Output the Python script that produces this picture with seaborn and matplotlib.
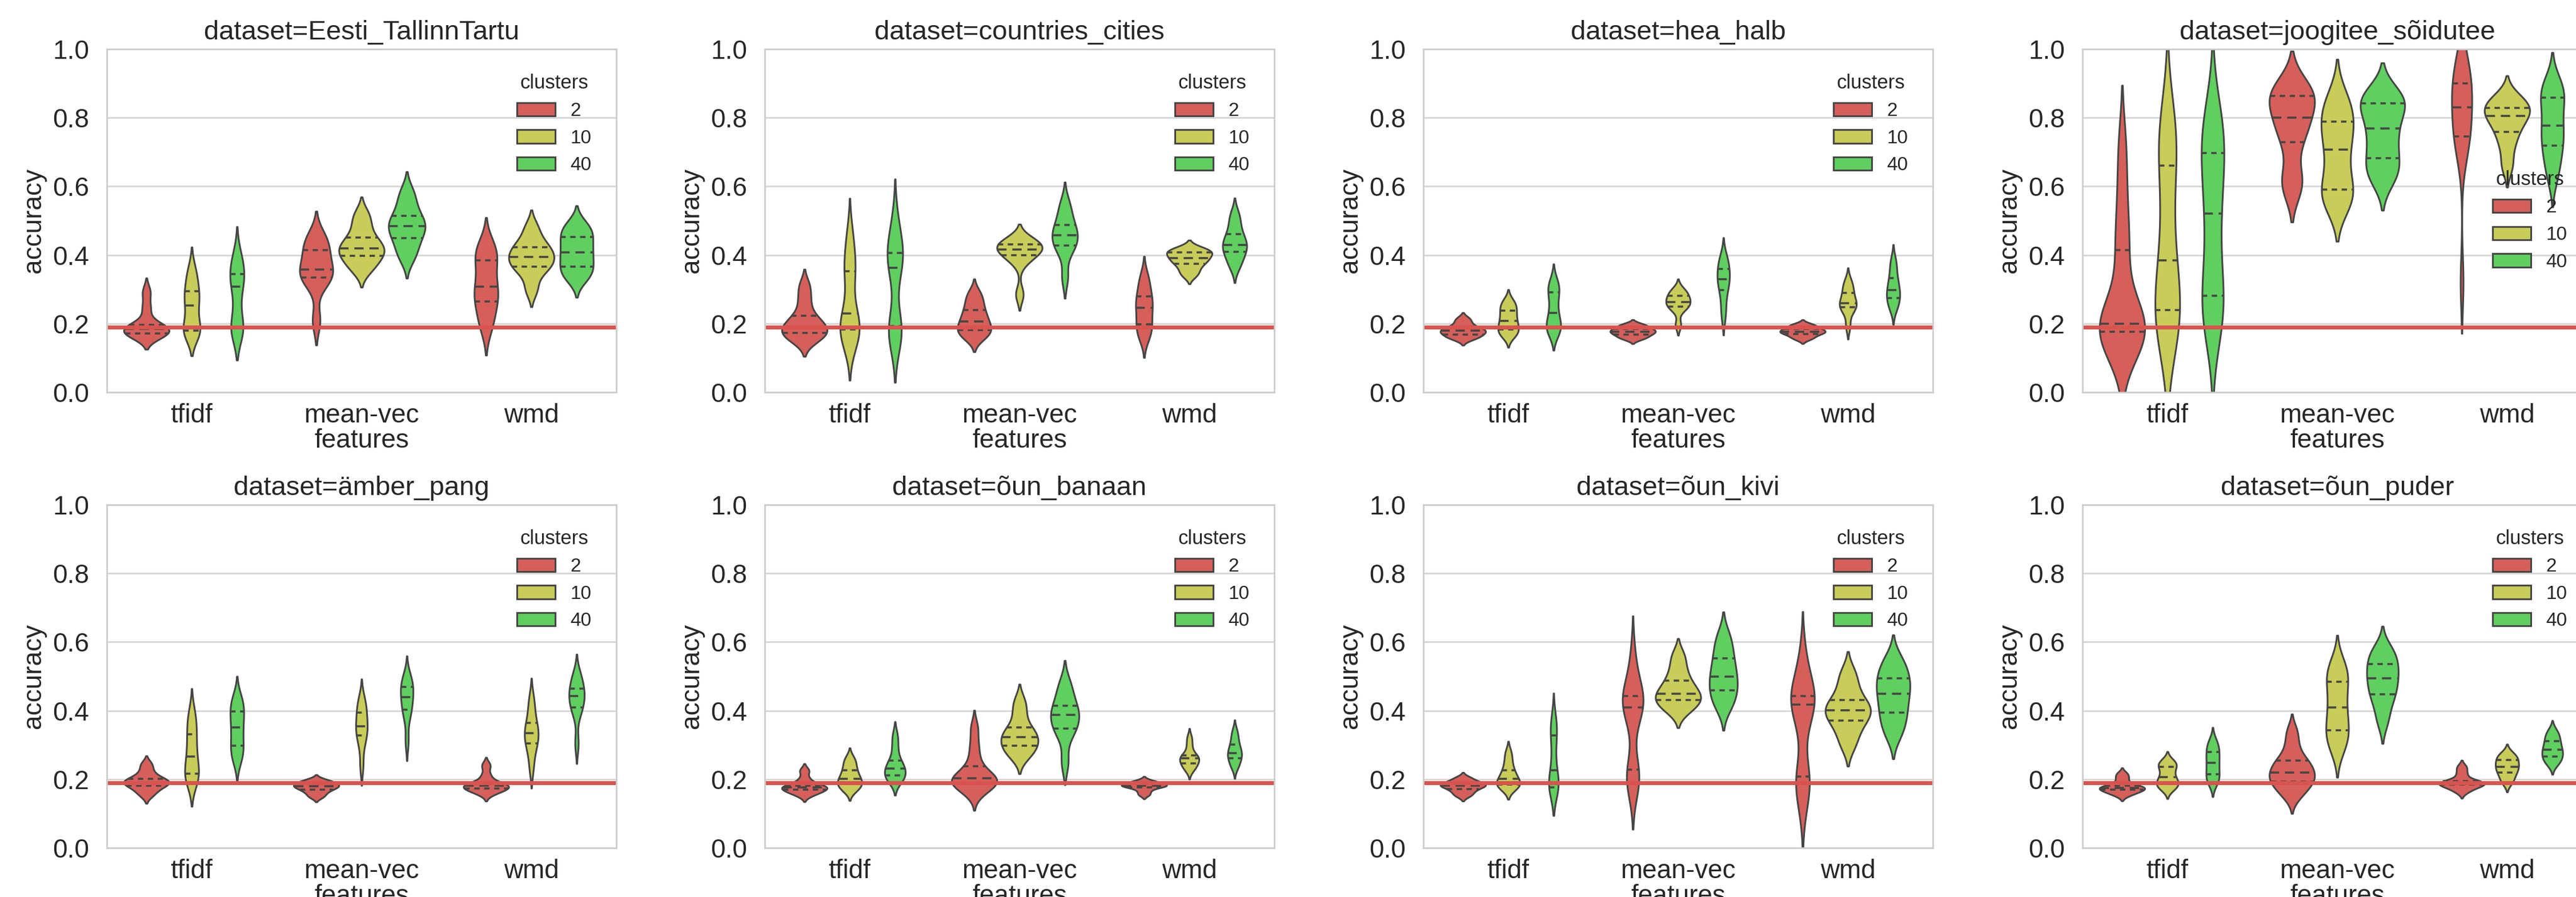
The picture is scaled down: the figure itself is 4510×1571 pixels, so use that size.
"""
Violin plots of clustering accuracy per dataset, feature type and number of clusters
"""

import pandas as pd
import matplotlib
matplotlib.use("Agg")
import matplotlib.pyplot as plt
import seaborn as sns

# --- data ------------------------------------------------------------------
datasets = ["Eesti_TallinnTartu", "countries_cities", "hea_halb", "joogitee_sõidutee",
            "ämber_pang", "õun_banaan", "õun_kivi", "õun_puder"]
features = ["tfidf", "mean-vec", "wmd"]
clusters = ["2", "10", "40"]
baseline = 0.19

# accuracy samples: feature -> [clusters 2, 10, 40]
acc_eesti = {
    "tfidf": [[.166, .169, .172, .178, .185, .191, .197, .245, .292],
              [.172, .176, .180, .216, .253, .274, .294, .325, .357],
              [.177, .182, .187, .247, .307, .326, .345, .372, .399]],
    "mean-vec": [[.209, .318, .334, .346, .358, .386, .414, .435, .456],
                 [.356, .377, .398, .408, .419, .435, .451, .485, .519],
                 [.391, .420, .450, .467, .484, .499, .514, .549, .584]],
    "wmd": [[.188, .227, .265, .286, .307, .346, .385, .407, .429],
            [.300, .350, .366, .380, .395, .405, .423, .440, .480],
            [.330, .350, .366, .390, .408, .430, .452, .470, .490]],
}
acc_countries = {
    "tfidf": [[.154, .163, .173, .182, .191, .207, .223, .266, .309],
              [.140, .165, .180, .190, .215, .245, .330, .360, .400, .460],
              [.150, .170, .190, .200, .340, .385, .395, .410, .440, .500]],
    "mean-vec": [[.160, .170, .181, .193, .206, .223, .240, .264, .288],
                 [.285, .380, .399, .408, .416, .424, .431, .437, .443],
                 [.335, .410, .427, .443, .458, .473, .488, .520, .551]],
    "wmd": [[.159, .179, .198, .222, .246, .263, .280, .309, .338],
            [.341, .358, .374, .383, .391, .400, .408, .413, .418],
            [.366, .388, .409, .420, .430, .446, .461, .490, .519]],
}
acc_hea = {
    "tfidf": [[.155, .162, .168, .174, .179, .183, .187, .200, .214],
              [.165, .174, .183, .196, .208, .223, .238, .252, .265],
              [.176, .183, .189, .210, .231, .261, .291, .306, .320]],
    "mean-vec": [[.155, .162, .168, .173, .177, .181, .185, .192, .198],
                 [.196, .240, .250, .257, .263, .272, .281, .290, .300],
                 [.221, .260, .298, .314, .329, .345, .360, .378, .396]],
    "wmd": [[.155, .163, .170, .174, .177, .181, .185, .192, .198],
            [.193, .235, .248, .254, .259, .275, .290, .307, .324],
            [.243, .259, .274, .286, .298, .315, .332, .359, .385]],
}
acc_joogitee = {
    "tfidf": [[.150, .155, .165, .180, .185, .190, .210, .260, .400, .460, .580, .720],
              [.160, .200, .240, .310, .385, .520, .661, .730, .800],
              [.200, .240, .281, .400, .520, .610, .698, .750, .800]],
    "mean-vec": [[.600, .620, .729, .770, .800, .840, .863, .875, .890],
                 [.550, .570, .591, .650, .707, .750, .788, .820, .860],
                 [.620, .650, .683, .730, .768, .810, .842, .855, .870]],
    "wmd": [[.320, .700, .730, .745, .760, .800, .830, .850, .880, .900, .920, .940, .960],
            [.660, .720, .758, .785, .805, .818, .829, .845, .860],
            [.630, .680, .718, .750, .777, .820, .858, .880, .900]],
}
acc_amber = {
    "tfidf": [[.155, .170, .182, .187, .192, .197, .202, .220, .243],
              [.191, .204, .217, .242, .267, .299, .331, .362, .394],
              [.256, .277, .298, .325, .351, .375, .398, .418, .438]],
    "mean-vec": [[.149, .160, .169, .174, .179, .183, .186, .192, .198],
                 [.240, .300, .327, .340, .354, .374, .394, .414, .434],
                 [.311, .380, .402, .421, .440, .455, .469, .485, .502]],
    "wmd": [[.160, .167, .173, .178, .182, .184, .186, .210, .240],
            [.233, .280, .304, .319, .334, .350, .365, .400, .435],
            [.304, .390, .410, .426, .442, .454, .465, .490, .506]],
}
acc_banaan = {
    "tfidf": [[.155, .162, .169, .173, .177, .180, .182, .200, .225],
              [.168, .177, .186, .194, .201, .214, .227, .244, .261],
              [.195, .203, .211, .221, .231, .243, .254, .290, .326]],
    "mean-vec": [[.160, .175, .185, .190, .195, .200, .205, .210, .230, .260, .300, .350],
                 [.266, .282, .298, .310, .323, .337, .351, .390, .427],
                 [.250, .330, .348, .368, .387, .401, .415, .450, .480]],
    "wmd": [[.155, .166, .176, .179, .181, .184, .186, .190, .196],
            [.228, .237, .246, .254, .262, .266, .269, .295, .320],
            [.235, .248, .262, .270, .277, .289, .301, .320, .340]],
}
acc_kivi = {
    "tfidf": [[.152, .162, .171, .177, .182, .185, .187, .195, .204],
              [.175, .180, .184, .192, .201, .214, .227, .250, .277],
              [.172, .175, .177, .200, .226, .277, .327, .350, .373]],
    "mean-vec": [[.170, .200, .220, .230, .380, .400, .420, .430, .440, .450, .480, .560],
                 [.400, .415, .431, .440, .450, .469, .488, .520, .560],
                 [.410, .435, .459, .480, .500, .526, .552, .585, .620]],
    "wmd": [[.120, .190, .200, .210, .350, .410, .425, .430, .440, .450, .490, .560],
            [.300, .340, .371, .386, .401, .416, .431, .470, .510],
            [.330, .365, .394, .422, .450, .472, .494, .520, .550]],
}
acc_puder = {
    "tfidf": [[.155, .162, .169, .172, .175, .178, .182, .200, .215],
              [.172, .180, .187, .196, .206, .222, .237, .245, .252],
              [.190, .200, .215, .232, .248, .264, .279, .295, .310]],
    "mean-vec": [[.150, .170, .185, .195, .205, .215, .225, .240, .250, .265, .300, .340],
                 [.290, .320, .342, .375, .409, .447, .485, .510, .535],
                 [.370, .420, .448, .471, .494, .515, .535, .560, .580]],
    "wmd": [[.165, .175, .184, .186, .188, .191, .194, .215, .235],
            [.190, .205, .219, .228, .237, .246, .256, .265, .275],
            [.245, .256, .267, .277, .286, .298, .311, .325, .340]],
}
acc_all = [acc_eesti, acc_countries, acc_hea, acc_joogitee,
           acc_amber, acc_banaan, acc_kivi, acc_puder]

palette = ["#d65f5a", "#c8cc58", "#5fcf5f"]
red_line = "#d9534f"

# long table
rows = []
for name, acc in zip(datasets, acc_all):
    for feat in features:
        for cl, values in zip(clusters, acc[feat]):
            for v in values:
                rows.append({"dataset": name, "features": feat, "clusters": cl, "accuracy": v})
df = pd.DataFrame(rows)

# --- plotting --------------------------------------------------------------
sns.set_theme(style="whitegrid")
plt.rcParams["font.family"] = ["Liberation Sans", "DejaVu Sans"]
plt.rcParams["grid.color"] = "#d5d5d5"

W, H = 4510, 1571
fig = plt.figure(figsize=(W / 200, H / 200), dpi=200)

col_left = [187, 1339, 2492, 3646]
ax_w = 892
row_top = [86, 884]
ax_h = 601

for i, name in enumerate(datasets):
    r, c = divmod(i, 4)
    ax = fig.add_axes([col_left[c] / W, 1 - (row_top[r] + ax_h) / H, ax_w / W, ax_h / H])
    # one call per feature: violin widths are scaled together within each feature group
    for j, feat in enumerate(features):
        sub = df[(df["dataset"] == name) & (df["features"] == feat)]
        sns.violinplot(data=sub, x="features", y="accuracy", hue="clusters",
                       order=features, hue_order=clusters, palette=palette,
                       inner="quart", inner_kws={"linewidth": 1.3},
                       bw_adjust=0.75, common_norm=True, saturation=1, linewidth=1.1,
                       linecolor="#454545", legend="auto" if j == 0 else False,
                       ax=ax)
    # quartile lines: longer dashes for the median
    for k, ln in enumerate(ax.lines):
        if k % 3 == 1:
            ln.set_dashes((4.5, 2.8))
        else:
            ln.set_dashes((2.6, 2.2))
    ax.axhline(baseline, color=red_line, lw=2.5)
    ax.set_ylim(0, 1)
    ax.set_yticks([0, .2, .4, .6, .8, 1.0])
    ax.set_yticklabels(["0.0", "0.2", "0.4", "0.6", "0.8", "1.0"])
    ax.set_title(f"dataset={name}", fontsize=17)
    ax.set_xlabel("features", fontsize=16.5, labelpad=0)
    ax.set_ylabel("accuracy", fontsize=16.5)
    ax.tick_params(axis="y", labelsize=16.5, pad=5)
    ax.tick_params(axis="x", labelsize=16.5, pad=1)
    ax.grid(axis="x", visible=False)
    for s in ax.spines.values():
        s.set_color("#cccccc")
        s.set_linewidth(1.0)
    loc = "center right" if name == "joogitee_sõidutee" else "upper right"
    sns.move_legend(ax, loc, title="clusters", frameon=False,
                    fontsize=12, title_fontsize=12.5, borderaxespad=0.9)

fig.savefig("out.png", dpi=200)
